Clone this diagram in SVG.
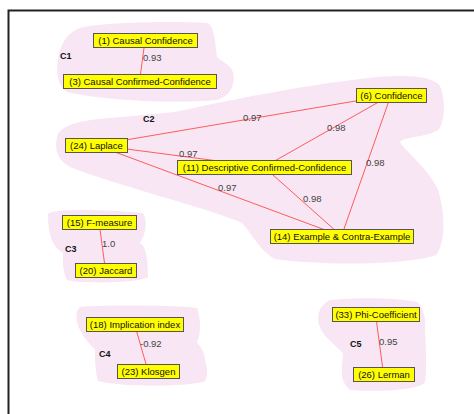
<svg xmlns="http://www.w3.org/2000/svg" width="474" height="414" viewBox="0 0 474 414">
<style>
.blob{fill:#f8e6f4;stroke:none}
.node rect{fill:#ffff00;stroke:#555;stroke-width:1}
.node text{font-family:"Liberation Sans",Arial,sans-serif;font-size:9.5px;fill:#111;text-anchor:middle}
.edges line{stroke:#ff5c5c;stroke-width:1}
.elabel{font-family:"Liberation Sans",Arial,sans-serif;font-size:9.5px;fill:#444}
.clabel{font-family:"Liberation Sans",Arial,sans-serif;font-size:9px;font-weight:bold;fill:#111}
</style>
<rect width="474" height="414" fill="#fff"/>
<path d="M474,10.5 H8.5 V414" fill="none" stroke="#222" stroke-width="2"/>
<g id="clusters">
<path id="C1-area" class="blob" d="M80,28 C100,22 180,21 207,23 C214,25 215,40 217,57 C222,62 230,64 233,72 C235,82 233,95 217,100 C170,104 100,100 67,92 C57,86 56,70 58,60 C60,48 64,34 80,28 Z"/>
<path id="C2-area" class="blob" d="M57,137 C60,125 80,120 110,118 L175,112 C230,100 300,86 360,79 C400,74 432,75 440,86 C446,100 445,124 438,130 C425,138 405,136 400,142 C403,149 430,170 438,190 C446,215 445,245 436,255 C410,265 320,266 275,259 C258,250 248,226 240,222 C200,206 120,186 75,169 C58,163 54,150 57,137 Z"/>
<path id="C3-area" class="blob" d="M48,214 C52,209 100,209 143,213 C147,220 147,232 140,243 C146,246 148,260 148,277 C140,283 80,284 67,280 C62,270 63,258 63,253 C55,248 48,240 48,214 Z"/>
<path id="C4-area" class="blob" d="M80,307 C110,305 170,305 197,308 C201,318 201,335 197,342 C201,348 205,352 205,360 C208,370 208,378 204,382 C180,387 120,387 98,381 C95,370 95,358 95,350 C90,344 84,338 82,333 C76,325 74,312 80,307 Z"/>
<path id="C5-area" class="blob" d="M330,300 C360,297 400,298 417,302 C424,308 426,320 425,330 C426,350 427,370 425,382 C420,391 370,392 350,390 C343,384 341,376 342,370 C342,362 343,356 343,353 C335,345 322,335 320,327 C316,318 318,306 330,300 Z"/>
</g>
<g id="cluster-labels">
<text class="clabel" x="60" y="59">C1</text>
<text class="clabel" x="143" y="122">C2</text>
<text class="clabel" x="65" y="252">C3</text>
<text class="clabel" x="99" y="357">C4</text>
<text class="clabel" x="350" y="347">C5</text>
</g>
<g id="connectors" class="edges">
<line x1="145" y1="40.5" x2="139.5" y2="81.5"/>
<line x1="96" y1="145" x2="391" y2="95"/>
<line x1="96" y1="145" x2="264" y2="167"/>
<line x1="96" y1="145" x2="341.5" y2="236"/>
<line x1="264" y1="167" x2="391" y2="95"/>
<line x1="264" y1="167" x2="341.5" y2="236"/>
<line x1="391" y1="95" x2="341.5" y2="236"/>
<line x1="99" y1="222" x2="105.5" y2="270.5"/>
<line x1="134.5" y1="324" x2="148" y2="371"/>
<line x1="375.5" y1="314" x2="383.5" y2="374"/>
</g>
<g id="connector-labels">
<text class="elabel" x="143" y="61">0.93</text>
<text class="elabel" x="243" y="121">0.97</text>
<text class="elabel" x="179" y="157">0.97</text>
<text class="elabel" x="218" y="191">0.97</text>
<text class="elabel" x="327" y="131">0.98</text>
<text class="elabel" x="303" y="202">0.98</text>
<text class="elabel" x="366" y="166">0.98</text>
<text class="elabel" x="102" y="247">1.0</text>
<text class="elabel" x="140" y="347">-0.92</text>
<text class="elabel" x="379" y="345">0.95</text>
</g>
<g id="n1" class="node"><rect x="93.5" y="33.5" width="104" height="14"/><text x="145.5" y="44">(1) Causal Confidence</text></g>
<g id="n3" class="node"><rect x="63.5" y="74.5" width="153" height="14"/><text x="140" y="85">(3) Causal Confirmed-Confidence</text></g>
<g id="n6" class="node"><rect x="356.5" y="88.5" width="70" height="14"/><text x="391.5" y="99">(6) Confidence</text></g>
<g id="n24" class="node"><rect x="65.5" y="138.5" width="62" height="14"/><text x="96.5" y="149">(24) Laplace</text></g>
<g id="n11" class="node"><rect x="177.5" y="160.5" width="174" height="14"/><text x="264.5" y="171">(11) Descriptive Confirmed-Confidence</text></g>
<g id="n14" class="node"><rect x="270.5" y="229.5" width="143" height="14"/><text x="342" y="240">(14) Example &amp; Contra-Example</text></g>
<g id="n15" class="node"><rect x="62.5" y="215.5" width="74" height="14"/><text x="99.5" y="226">(15) F-measure</text></g>
<g id="n20" class="node"><rect x="75.5" y="263.5" width="61" height="14"/><text x="106" y="274">(20) Jaccard</text></g>
<g id="n18" class="node"><rect x="86.5" y="317.5" width="97" height="14"/><text x="135" y="328">(18) Implication index</text></g>
<g id="n23" class="node"><rect x="117.5" y="364.5" width="62" height="14"/><text x="148.5" y="375">(23) Klosgen</text></g>
<g id="n33" class="node"><rect x="332.5" y="307.5" width="87" height="14"/><text x="376" y="318">(33) Phi-Coefficient</text></g>
<g id="n26" class="node"><rect x="353.5" y="367.5" width="61" height="14"/><text x="384" y="378">(26) Lerman</text></g>
</svg>
